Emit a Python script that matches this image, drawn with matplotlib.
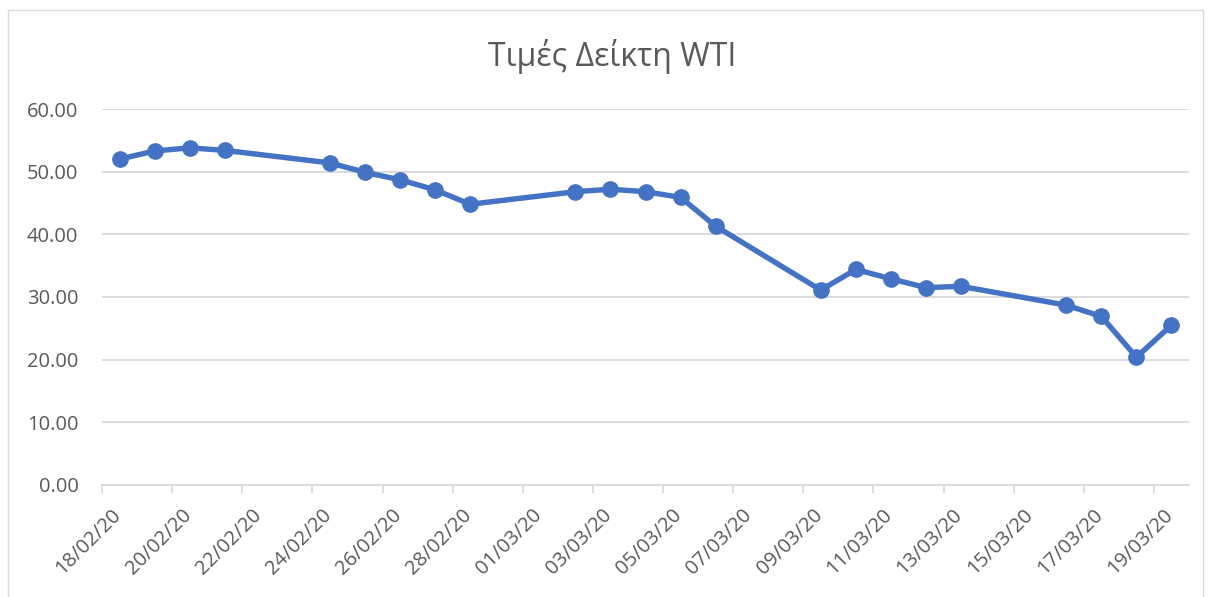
import pandas as pd
import matplotlib.pyplot as plt
import matplotlib.dates as mdates
from matplotlib.patches import Rectangle
from matplotlib.transforms import ScaledTranslation

# WTI index values
dates = ['18/02/20', '19/02/20', '20/02/20', '21/02/20', '24/02/20', '25/02/20',
         '26/02/20', '27/02/20', '28/02/20', '02/03/20', '03/03/20', '04/03/20',
         '05/03/20', '06/03/20', '09/03/20', '10/03/20', '11/03/20', '12/03/20',
         '13/03/20', '16/03/20', '17/03/20', '18/03/20', '19/03/20']
prices = [52.0, 53.3, 53.8, 53.4, 51.4, 49.9, 48.7, 47.1, 44.8, 46.8, 47.2, 46.8,
          45.9, 41.3, 31.1, 34.4, 32.9, 31.5, 31.7, 28.7, 26.9, 20.4, 25.5]

df = pd.DataFrame({'date': pd.to_datetime(dates, format='%d/%m/%y'), 'price': prices})
# Excel date axis puts each point in the middle of its day slot
df['x'] = df['date'] + pd.Timedelta(hours=12)

plt.rcParams['font.family'] = ['Open Sans', 'DejaVu Sans']
grey = '#595959'

fig = plt.figure(figsize=(12.11, 5.97), dpi=100)
ax = fig.add_axes([102 / 1211, 112 / 597, (1189 - 102) / 1211, (485 - 109) / 597])

ax.plot(df['x'], df['price'], color='#4472C4', linewidth=3.9, marker='o',
        markersize=11, solid_capstyle='round', solid_joinstyle='round', zorder=3)

ax.set_ylim(0, 60)
ax.set_yticks(range(0, 61, 10))
ax.yaxis.set_major_formatter(plt.FuncFormatter(lambda v, p: f'{v:.2f}'))
ax.set_xlim(pd.Timestamp('2020-02-18'), pd.Timestamp('2020-03-20'))
ax.set_xticks(pd.date_range('2020-02-18', '2020-03-19', freq='2D'))
ax.xaxis.set_major_formatter(mdates.DateFormatter('%d/%m/%y'))

ax.grid(axis='y', color='#D9D9D9', linewidth=1.3)
ax.set_axisbelow(True)
for side in ['top', 'right', 'left']:
    ax.spines[side].set_visible(False)
ax.spines['bottom'].set_color('#D9D9D9')
ax.spines['bottom'].set_linewidth(1.3)
ax.tick_params(axis='y', length=0, pad=17, labelsize=14.5, labelcolor=grey)
ax.tick_params(axis='x', length=6, width=1.3, color='#D9D9D9', labelsize=14.5,
               labelcolor=grey, pad=0)
shift = ScaledTranslation(9 / 100, -12 / 100, fig.dpi_scale_trans)
for lbl in ax.get_xticklabels():
    lbl.set_rotation(45)
    lbl.set_ha('right')
    lbl.set_rotation_mode('anchor')
    lbl.set_transform(lbl.get_transform() + shift)

fig.text(612 / 1211, 1 - 56 / 597, 'Τιμές Δείκτη WTI', ha='center', va='center',
         fontsize=23, color=grey)

# chart border
fig.patches.append(Rectangle((8 / 1211, -0.01), (1203 - 8) / 1211, 1 - 10 / 597 + 0.01,
                             transform=fig.transFigure, fill=False,
                             edgecolor='#D9D9D9', linewidth=1))

plt.savefig('out.png', dpi=100)
